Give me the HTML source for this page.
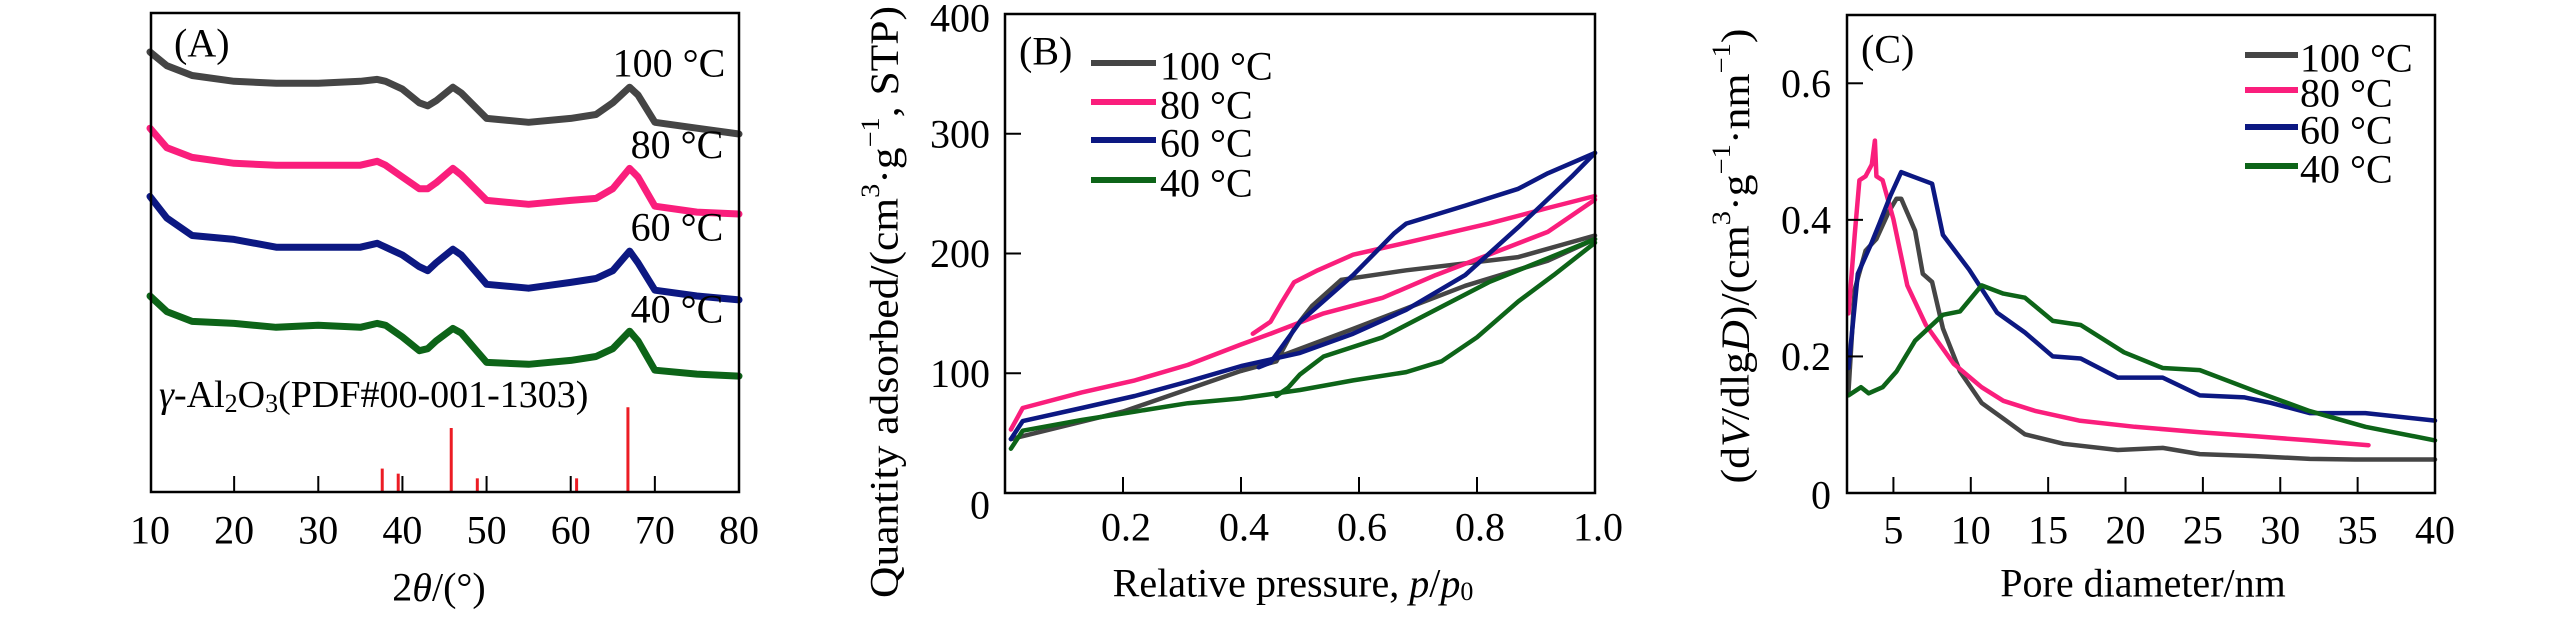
<!DOCTYPE html>
<html><head><meta charset="utf-8"><style>
html,body{margin:0;padding:0;background:#fff;}
svg, svg text{font-family:"Liberation Serif","DejaVu Serif","Times New Roman",serif;}
</style></head><body>
<svg id="fig" width="2567" height="614" viewBox="0 0 2567 614" xmlns="http://www.w3.org/2000/svg" font-family="Liberation Serif, DejaVu Serif, serif">
<g id="pA"></g>
<g id="pB"></g>
<g id="pC"></g>
</svg>
<script>
// ---- Panel A data ----
const xrdTheta = [10,12,15,20,25,30,35,37,38,40,42,43,44,46,47,50,55,60,63,65,67,68,70,75,80];
const xrd100 = [1127,1092,1067,1052,1047,1047,1052,1057,1052,1032,997,989,1002,1037,1022,957,947,957,967,997,1037,1017,947,932,917];
const xrd80 = [932,882,857,842,837,837,837,847,837,807,777,777,792,829,812,747,737,747,752,777,829,807,732,717,712];
const xrd60 = [757,702,657,647,627,627,627,637,627,607,577,567,587,622,607,532,522,537,547,567,617,587,517,502,492];
const xrd40 = [502,462,437,432,422,427,422,432,427,397,362,367,387,419,407,332,327,337,347,367,412,387,312,302,297];
const refTheta = [37.6,39.5,45.8,48.9,60.7,66.8];
const refInt = [60,47,164,35,35,217];
const xTicksA = [10,20,30,40,50,60,70,80];
// ---- Panel B data ----
const pGrayAds = [0.01,0.2,0.4,0.59,0.78,0.92,1.0];
const vGrayAds = [45,68,102,137,173,194,212];
const pGrayDes = [1.0,0.87,0.68,0.57,0.52,0.49,0.46,0.4];
const vGrayDes = [215,197,186,178,156,137,110,102];
const pPinkAds = [0.01,0.03,0.13,0.22,0.31,0.4,0.45,0.54,0.64,0.73,0.82,0.92,1.0];
const vPinkAds = [53,71,84,94,107,124,133,150,163,182,199,218,245];
const pPinkDes = [1.0,0.92,0.82,0.68,0.59,0.53,0.49,0.47,0.45,0.42];
const vPinkDes = [248,238,225,209,199,186,176,160,143,133];
const pBlueAds = [0.01,0.03,0.13,0.22,0.31,0.4,0.5,0.59,0.68,0.78,0.87,0.96,1.0];
const vBlueAds = [45,60,71,81,93,106,117,133,153,182,222,264,284];
const pBlueDes = [1.0,0.92,0.87,0.78,0.68,0.66,0.59,0.5,0.45,0.43];
const vBlueDes = [284,267,254,240,225,217,182,143,109,105];
const pGreenAds = [0.01,0.03,0.13,0.22,0.31,0.4,0.5,0.59,0.68,0.74,0.8,0.87,0.93,1.0];
const vGreenAds = [37,52,61,68,75,79,86,94,101,110,130,160,182,209];
const pGreenDes = [1.0,0.92,0.82,0.73,0.64,0.54,0.5,0.48,0.46];
const vGreenDes = [212,196,176,153,130,114,99,88,81];
const yTicksB = [0,100,200,300,400];
const xTicksB = [0.2,0.4,0.6,0.8,1.0];
// ---- Panel C data ----
const dGray = [2.1,2.5,3.2,3.9,4.7,5.2,5.5,6.4,6.9,7.5,8.2,9.3,10.7,12.1,13.5,16,19.5,22.4,24.8,28.4,31.9,34.8,40];
const vGray = [0.149,0.298,0.355,0.372,0.412,0.431,0.431,0.384,0.321,0.309,0.241,0.178,0.132,0.109,0.086,0.072,0.063,0.066,0.057,0.054,0.050,0.049,0.049];
const dPink = [2.1,2.5,2.8,3.2,3.6,3.8,3.9,4.3,5.0,5.9,7.1,8.9,10.7,12.1,14.2,17,20.6,24.8,28.4,31.9,35.7];
const vPink = [0.263,0.378,0.458,0.464,0.481,0.516,0.464,0.458,0.401,0.304,0.246,0.189,0.155,0.135,0.120,0.106,0.097,0.089,0.083,0.077,0.070];
const dBlue = [2.1,2.7,3.6,4.1,4.8,5.5,6.2,7.5,8.2,9.9,11.7,13.5,15.3,17.1,19.5,22.4,24.8,27.7,29.4,31.9,35.5,40];
const vBlue = [0.183,0.321,0.367,0.395,0.435,0.470,0.464,0.453,0.378,0.327,0.264,0.235,0.200,0.197,0.169,0.169,0.143,0.140,0.132,0.117,0.117,0.106];
const dGreen = [2.1,2.9,3.4,4.3,5.2,6.4,8.2,9.3,10.7,12.1,13.5,15.3,17.1,19.9,22.4,24.8,28.4,31.9,35.5,40];
const vGreen = [0.143,0.155,0.146,0.155,0.178,0.223,0.261,0.266,0.304,0.292,0.286,0.252,0.246,0.206,0.183,0.180,0.149,0.120,0.097,0.077];
const yTicksC = [0,0.2,0.4,0.6];
const xTicksC = [5,10,15,20,25,30,35,40];
const seriesNames = ["100 °C","80 °C","60 °C","40 °C"];

const NS = "http://www.w3.org/2000/svg";
const FONT = "Liberation Serif, DejaVu Serif, serif";
const GRAY="#454545", PINK="#fa1e7c", BLUE="#0c1882", GREEN="#0d6418", RED="#ec1c24";
function mk(tag, attrs, parent){const e=document.createElementNS(NS,tag);for(const k in attrs)e.setAttribute(k,attrs[k]);parent.appendChild(e);return e;}
function txt(parent,x,y,s,size,anchor){const t=mk("text",{x:x,y:y,"font-family":FONT,"font-size":size,"text-anchor":anchor||"start","dominant-baseline":"central",fill:"#000"},parent);t.textContent=s;return t;}
function lin(d0,d1,r0,r1){return v=>r0+(v-d0)/(d1-d0)*(r1-r0);}
function poly(parent,xs,ys,sx,sy,color,w){const pts=xs.map((x,i)=>sx(x).toFixed(1)+","+sy(ys[i]).toFixed(1)).join(" ");return mk("polyline",{points:pts,fill:"none",stroke:color,"stroke-width":w,"stroke-linejoin":"round","stroke-linecap":"round"},parent);}
function frame(parent,x0,y0,x1,y1){const r=mk("rect",{x:x0,y:y0,width:x1-x0,height:y1-y0,fill:"none",stroke:"#000","stroke-width":2.5},parent);}

// ===== Panel A =====
(function(){
const g=document.getElementById("pA");
const L=151,R=739,T=13,B=492;
const sx=lin(10,80,150,739), sy=lin(0,1227,B,T);
const series=[xrd100,xrd80,xrd60,xrd40], cols=[GRAY,PINK,BLUE,GREEN], nm=["xrd-100c","xrd-80c","xrd-60c","xrd-40c"];
series.forEach((s,i)=>{const p=poly(g,xrdTheta,s,sx,sy,cols[i],7);

});
refTheta.forEach((t,i)=>{const l=mk("line",{x1:sx(t),x2:sx(t),y1:B,y2:sy(refInt[i]),stroke:RED,"stroke-width":3},g);

});
frame(g,L,T,R,B);
xTicksA.forEach(v=>{if(v>10&&v<80){const l=mk("line",{x1:sx(v),x2:sx(v),y1:B,y2:B-16,stroke:"#000","stroke-width":2},g);

}
const t=txt(g,sx(v),530,String(v),40,"middle");

});
const labY=[sy(xrd100[20])-24,sy(xrd80[20])-24,sy(xrd60[20])-24,sy(xrd40[20])-22];
const labX=[669,677,677,677];
seriesNames.forEach((s,i)=>{const t=txt(g,labX[i],labY[i],s,40,"middle");

});
const pa=txt(g,174,43,"(A)",40);


const ref=mk("text",{x:159,y:395,"font-family":FONT,"font-size":38,fill:"#000","dominant-baseline":"central"},g);


ref.innerHTML='<tspan font-style="italic">γ</tspan>-Al<tspan font-size="26" dy="8">2</tspan><tspan dy="-8">O</tspan><tspan font-size="26" dy="8">3</tspan><tspan dy="-8">(PDF#00-001-1303)</tspan>';
const xt=mk("text",{x:439,y:587,"font-family":FONT,"font-size":40,"text-anchor":"middle","dominant-baseline":"central"},g);


xt.innerHTML='2<tspan font-style="italic">θ</tspan>/(°)';
})();

// ===== Panel B =====
(function(){
const g=document.getElementById("pB");
const L=1005,R=1595,T=14,B=493;
const sx=lin(0,1,L,R), sy=lin(0,400,B,T);
const sets=[[pGrayAds,vGrayAds,pGrayDes,vGrayDes,GRAY],[pPinkAds,vPinkAds,pPinkDes,vPinkDes,PINK],[pBlueAds,vBlueAds,pBlueDes,vBlueDes,BLUE],[pGreenAds,vGreenAds,pGreenDes,vGreenDes,GREEN]];
const nm=["100c","80c","60c","40c"];
sets.forEach((s,i)=>{
const a=poly(g,s[0],s[1],sx,sy,s[4],4.5);


const d=poly(g,s[2],s[3],sx,sy,s[4],4.5);

});
frame(g,L,T,R,B);
yTicksB.forEach(v=>{if(v>0&&v<400){const l=mk("line",{x1:L,x2:L+16,y1:sy(v),y2:sy(v),stroke:"#000","stroke-width":2},g);

}
const t=txt(g,990,v===0?505:(v===400?18:sy(v)),String(v),40,"end");

});
xTicksB.forEach(v=>{if(v<1){const l=mk("line",{x1:sx(v),x2:sx(v),y1:B,y2:B-16,stroke:"#000","stroke-width":2},g);

}
const t=txt(g,sx(v)+3,527,v.toFixed(1),40,"middle");

});
const pb=txt(g,1019,51,"(B)",40);


const cols=[GRAY,PINK,BLUE,GREEN], ly=[63,102,140,180];
seriesNames.forEach((s,i)=>{
const l=mk("line",{x1:1091,x2:1156,y1:ly[i],y2:ly[i],stroke:cols[i],"stroke-width":6},g);


mk("circle",{cx:1123,cy:ly[i],r:3,fill:cols[i]},g);
const t=txt(g,1160,ly[i]+3,s,40);

});
const yt=mk("text",{x:0,y:0,"font-family":FONT,"font-size":40,"text-anchor":"middle","dominant-baseline":"central",transform:"translate(884,302) rotate(-90)",textLength:592,lengthAdjust:"spacingAndGlyphs"},g);


yt.innerHTML='Quantity adsorbed/(cm<tspan font-size="26" dy="-14">3</tspan><tspan dy="14">·g</tspan><tspan font-size="26" dy="-14">−1</tspan><tspan dy="14">, STP)</tspan>';
const xt=mk("text",{x:1293,y:583,"font-family":FONT,"font-size":40,"text-anchor":"middle","dominant-baseline":"central"},g);


xt.innerHTML='Relative pressure, <tspan font-style="italic">p</tspan>/<tspan font-style="italic">p</tspan><tspan font-size="26" dy="8">0</tspan>';
})();

// ===== Panel C =====
(function(){
const g=document.getElementById("pC");
const L=1847,R=2435,T=15,B=493;
const sx=lin(2,40,L,R), sy=lin(0,0.7,B,T);
const sets=[[dGray,vGray,GRAY],[dPink,vPink,PINK],[dBlue,vBlue,BLUE],[dGreen,vGreen,GREEN]];
const nm=["100c","80c","60c","40c"];
sets.forEach((s,i)=>{const p=poly(g,s[0],s[1],sx,sy,s[2],4.5);

});
frame(g,L,T,R,B);
yTicksC.forEach(v=>{if(v>0){const l=mk("line",{x1:L,x2:L+16,y1:sy(v),y2:sy(v),stroke:"#000","stroke-width":2},g);

}
const t=txt(g,1831,v===0?495:sy(v),v===0?"0":v.toFixed(1),40,"end");

});
xTicksC.forEach(v=>{if(v<40){const l=mk("line",{x1:sx(v),x2:sx(v),y1:B,y2:B-16,stroke:"#000","stroke-width":2},g);

}
const t=txt(g,sx(v),530,String(v),40,"middle");

});
const pc=txt(g,1861,49,"(C)",40);


const cols=[GRAY,PINK,BLUE,GREEN], ly=[55,90,127,166];
seriesNames.forEach((s,i)=>{
const l=mk("line",{x1:2245,x2:2298,y1:ly[i],y2:ly[i],stroke:cols[i],"stroke-width":6},g);


const t=txt(g,2300,ly[i]+3,s,40);

});
const yt=mk("text",{x:0,y:0,"font-family":FONT,"font-size":40,"text-anchor":"middle","dominant-baseline":"central",transform:"translate(1735,256) rotate(-90)",textLength:455,lengthAdjust:"spacingAndGlyphs"},g);


yt.innerHTML='(d<tspan font-style="italic">V</tspan>/dlg<tspan font-style="italic">D</tspan>)/(cm<tspan font-size="26" dy="-14">3</tspan><tspan dy="14">·g</tspan><tspan font-size="26" dy="-14">−1</tspan><tspan dy="14">·nm</tspan><tspan font-size="26" dy="-14">−1</tspan><tspan dy="14">)</tspan>';
const xt=txt(g,2143,583,"Pore diameter/nm",40,"middle");


})();
</script>
</body></html>
